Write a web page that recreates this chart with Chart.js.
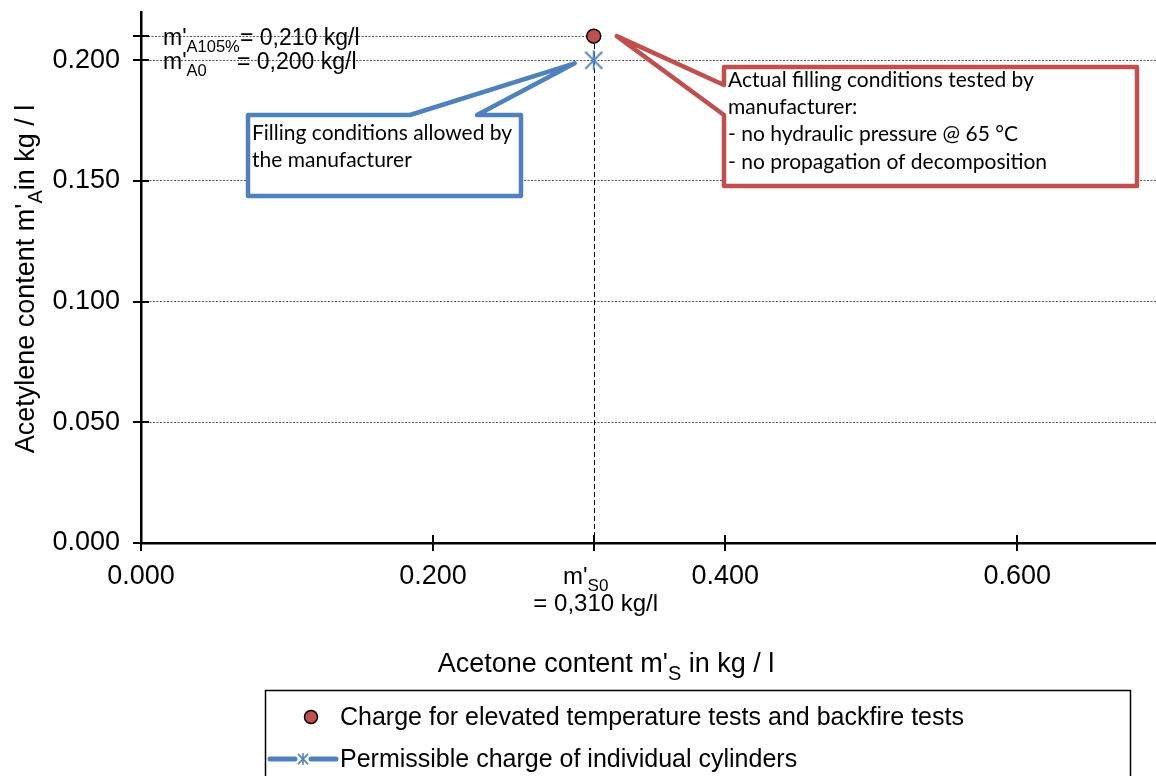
<!DOCTYPE html>
<html>
<head>
<meta charset="utf-8">
<script src="https://cdn.jsdelivr.net/npm/chart.js@4.4.1/dist/chart.umd.min.js"></script>
<style>
html,body{margin:0;padding:0;background:#fff;}
#wrap{width:1156px;height:776px;position:relative;}
</style>
</head>
<body>
<div id="wrap"><canvas id="c" width="1156" height="776"></canvas></div>
<script>
// ---- data ----
const elevatedTestX = [0.310];
const elevatedTestY = [0.210];
const permissibleX = [0.310];
const permissibleY = [0.200];
const xTickValues = [0.000, 0.200, 0.400, 0.600];
const yTickValues = [0.000, 0.050, 0.100, 0.150, 0.200];
const extraYTick = 0.210;
const seriesNames = ["Charge for elevated temperature tests and backfire tests", "Permissible charge of individual cylinders"];

const FONT = "'Liberation Sans', Arial, sans-serif";
const CFONT = "Lato, 'Open Sans', sans-serif";
const RED = '#c0504d';
const BLUE = '#4f81bd';

function makeAsterisk(r, color, lw){
  const cv = document.createElement('canvas');
  cv.width = r*2+4; cv.height = r*2+4;
  const g = cv.getContext('2d');
  g.strokeStyle = color; g.lineWidth = lw;
  const c = r+2;
  g.beginPath();
  g.moveTo(c-r*0.85,c-r*0.85); g.lineTo(c+r*0.85,c+r*0.85);
  g.moveTo(c+r*0.85,c-r*0.85); g.lineTo(c-r*0.85,c+r*0.85);
  g.moveTo(c,c-r); g.lineTo(c,c+r);
  g.stroke();
  return cv;
}
const astBig = makeAsterisk(10, BLUE, 1.8);

function drawSub(ctx, parts, x, y, size, subSize, align){
  let total = 0;
  parts.forEach(p=>{ ctx.font = (p[1]?subSize:size)+'px '+FONT; total += ctx.measureText(p[0]).width; });
  let cx = x;
  if(align==='center') cx = x - total/2;
  if(align==='right') cx = x - total;
  ctx.textAlign='left';
  ctx.textBaseline='alphabetic';
  parts.forEach(p=>{
    ctx.font = (p[1]?subSize:size)+'px '+FONT;
    ctx.fillText(p[0], cx, y + (p[1]?Math.round(size*0.3):0));
    cx += ctx.measureText(p[0]).width;
  });
  return total;
}

const overlay = {
  id:'overlay',
  beforeDatasetsDraw(chart){
    const ctx = chart.ctx, xs = chart.scales.x, ys = chart.scales.y;
    const px = xs.getPixelForValue(elevatedTestX[0]);
    const py21 = ys.getPixelForValue(elevatedTestY[0]);
    ctx.save();
    ctx.strokeStyle = '#555'; ctx.lineWidth = 1; ctx.setLineDash([2,1.5]);
    ctx.beginPath(); ctx.moveTo(xs.left, Math.round(py21)+0.5); ctx.lineTo(px, Math.round(py21)+0.5); ctx.stroke();
    ctx.strokeStyle = '#000'; ctx.setLineDash([5,3]);
    ctx.beginPath(); ctx.moveTo(Math.round(px)+0.5, py21); ctx.lineTo(Math.round(px)+0.5, ys.bottom); ctx.stroke();
    ctx.restore();
  },
  afterDraw(chart){
    const ctx = chart.ctx, xs = chart.scales.x, ys = chart.scales.y;
    ctx.save();
    ctx.fillStyle = '#000'; ctx.strokeStyle = '#000'; ctx.lineWidth = 2;
    const ax = xs.left, ay = ys.bottom;
    yTickValues.concat([extraYTick]).forEach(v=>{
      const y = Math.round(ys.getPixelForValue(v));
      ctx.beginPath(); ctx.moveTo(ax-8,y); ctx.lineTo(ax+8,y); ctx.stroke();
    });
    xTickValues.concat([permissibleX[0]]).forEach(v=>{
      const x = Math.round(xs.getPixelForValue(v));
      ctx.beginPath(); ctx.moveTo(x,ay-8); ctx.lineTo(x,ay+8); ctx.stroke();
    });
    // left labels
    const y21 = ys.getPixelForValue(extraYTick), y20 = ys.getPixelForValue(permissibleY[0]);
    drawSub(ctx, [["m'",false],["A105%",true]], ax+22, y21+9, 23, 16.5, 'left');
    ctx.font = '23px '+FONT; ctx.textAlign='left';
    ctx.fillText('= 0,210 kg/l', ax+99, y21+9);
    drawSub(ctx, [["m'",false],["A0",true]], ax+22, y20+9, 23, 16.5, 'left');
    ctx.font = '23px '+FONT;
    ctx.fillText('= 0,200 kg/l', ax+96, y20+9);
    // m'S0 label
    const xs0 = xs.getPixelForValue(permissibleX[0]);
    drawSub(ctx, [["m'",false],["S0",true]], xs0-8, ay+41, 24, 17, 'center');
    ctx.font = '24px '+FONT; ctx.textAlign='left';
    const w = ctx.measureText('= 0,310 kg/l').width;
    ctx.fillText('= 0,310 kg/l', xs0 + 2 - w/2, ay+68);
    // axis titles
    drawSub(ctx, [["Acetone content m'",false],["S",true],[" in kg / l",false]], 606, 672, 27, 20, 'center');
    ctx.save();
    ctx.translate(34, 279); ctx.rotate(-Math.PI/2);
    drawSub(ctx, [["Acetylene content m'",false],["A",true],["in kg / l",false]], 0, 0, 27, 20, 'center');
    ctx.restore();

    // callouts
    ctx.lineJoin = 'round';
    const bx = xs.getPixelForValue(permissibleX[0]) - 19, by = ys.getPixelForValue(permissibleY[0]) + 3;
    ctx.beginPath();
    ctx.moveTo(248,115); ctx.lineTo(410,115); ctx.lineTo(bx,by); ctx.lineTo(477,115);
    ctx.lineTo(521,115); ctx.lineTo(521,196); ctx.lineTo(248,196); ctx.closePath();
    ctx.fillStyle='#fff'; ctx.fill();
    ctx.strokeStyle = BLUE; ctx.lineWidth = 4.5; ctx.stroke();

    const rx = xs.getPixelForValue(elevatedTestX[0]) + 23, ry = ys.getPixelForValue(elevatedTestY[0]);
    ctx.beginPath();
    ctx.moveTo(724,67); ctx.lineTo(1137,67); ctx.lineTo(1137,186); ctx.lineTo(724,186);
    ctx.lineTo(724,115); ctx.lineTo(rx,ry); ctx.lineTo(724,85); ctx.closePath();
    ctx.fillStyle='#fff'; ctx.fill();
    ctx.strokeStyle = RED; ctx.lineWidth = 4.5; ctx.stroke();

    ctx.fillStyle = '#000'; ctx.textAlign='left'; ctx.textBaseline='alphabetic';
    ctx.font = '21px '+CFONT;
    ctx.fillText('Filling conditions allowed by', 252, 140);
    ctx.fillText('the manufacturer', 252, 167);
    ctx.fillText('Actual filling conditions tested by', 728, 87);
    ctx.fillText('manufacturer:', 728, 114);
    ctx.fillText('- no hydraulic pressure @ 65 \u00B0C', 728, 141);
    ctx.fillText('- no propagation of decomposition', 728, 169);

    // legend
    ctx.strokeStyle = '#000'; ctx.lineWidth = 1.5; ctx.lineJoin='miter';
    ctx.strokeRect(265.5, 690.5, 865, 100);
    ctx.beginPath(); ctx.arc(311, 717, 6.5, 0, Math.PI*2);
    ctx.fillStyle = RED; ctx.fill(); ctx.strokeStyle='#000'; ctx.lineWidth=1.5; ctx.stroke();
    ctx.strokeStyle = BLUE; ctx.lineWidth = 5; ctx.lineCap='round';
    ctx.beginPath(); ctx.moveTo(270,759); ctx.lineTo(295,759); ctx.moveTo(311,759); ctx.lineTo(336,759); ctx.stroke();
    ctx.drawImage(makeAsterisk(6, BLUE, 1.5), 303-8, 759-8);
    ctx.fillStyle='#000'; ctx.font='25px '+FONT; ctx.textAlign='left'; ctx.textBaseline='middle';
    ctx.fillText(seriesNames[0], 340, 718);
    ctx.fillText(seriesNames[1], 340, 760);
    ctx.restore();
  }
};

new Chart(document.getElementById('c'), {
  type:'scatter',
  data:{
    datasets:[
      {label:seriesNames[0], data: elevatedTestX.map((x,i)=>({x, y: elevatedTestY[i]})),
       pointRadius:7, pointBackgroundColor:RED, pointBorderColor:'#000', pointBorderWidth:1.5},
      {label:seriesNames[1], data: permissibleX.map((x,i)=>({x, y: permissibleY[i]})),
       pointStyle: astBig, pointRadius:10, showLine:true, borderColor:BLUE, borderWidth:4}
    ]
  },
  plugins:[overlay],
  options:{
    responsive:false, animation:false, devicePixelRatio:1,
    layout:{autoPadding:false, padding:{top:12, right:0, left:0, bottom:0}},
    plugins:{legend:{display:false}, tooltip:{enabled:false}},
    scales:{
      x:{type:'linear', min:0, max:0.695,
         afterBuildTicks(s){ s.ticks = xTickValues.map(v=>({value:v})); },
         afterFit(s){ s.height = 233; s.paddingLeft = 0; s.paddingRight = 0; },
         ticks:{font:{family:FONT, size:27}, color:'#000', padding:17, maxRotation:0,
                callback:v=>v.toFixed(3)},
         grid:{display:false, drawTicks:false},
         border:{display:true, color:'#000', width:2.5}},
      y:{type:'linear', min:0, max:0.22,
         afterBuildTicks(s){ s.ticks = yTickValues.map(v=>({value:v})); },
         afterFit(s){ s.width = 141; s.paddingTop = 0; s.paddingBottom = 0; },
         ticks:{font:{family:FONT, size:27}, color:'#000', padding:21,
                callback:v=>v.toFixed(3)},
         grid:{display:true, drawTicks:false, color:'#555', lineWidth:1},
         border:{display:true, color:'#000', width:2.5, dash:[2,1.5]}}
    }
  }
});
</script>
</body>
</html>
